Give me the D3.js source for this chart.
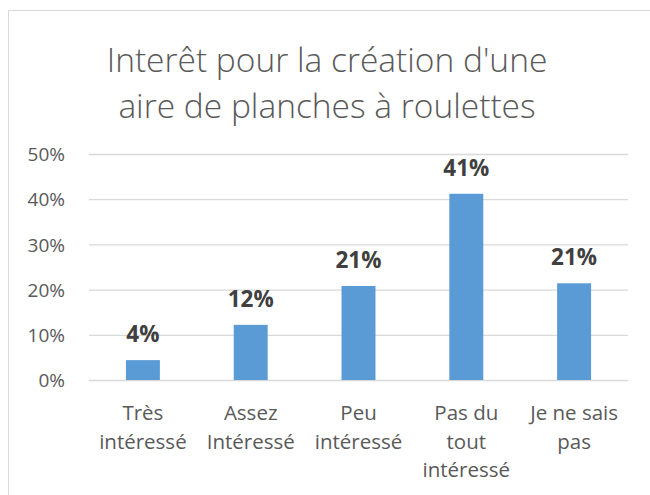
<!DOCTYPE html>
<html>
<head>
<meta charset="utf-8">
<script src="https://cdn.jsdelivr.net/npm/d3@7"></script>
<style>
  html, body { margin: 0; padding: 0; background: #fff; }
  svg { display: block; }
  text { font-family: "Open Sans", sans-serif; }
</style>
</head>
<body>
<svg id="chart" width="650" height="495"></svg>
<script>
const titleLines = ["Interêt pour la création d'une", "aire de planches à roulettes"];
const categories = [
  ["Très", "intéressé"],
  ["Assez", "Intéressé"],
  ["Peu", "intéressé"],
  ["Pas du", "tout", "intéressé"],
  ["Je ne sais", "pas"]
];
const values = [0.044, 0.122, 0.208, 0.412, 0.214];
const valueLabels = ["4%", "12%", "21%", "41%", "21%"];
const yTicks = [0, 0.1, 0.2, 0.3, 0.4, 0.5];

const svg = d3.select("#chart");
const W = 650, H = 495;
const plot = { left: 89, right: 628, top: 154, bottom: 380 };

svg.append("rect")
  .attr("x", 8.5).attr("y", 10.5)
  .attr("width", W + 10).attr("height", H + 10)
  .attr("fill", "#fff").attr("stroke", "#d9d9d9").attr("stroke-width", 1);

svg.append("g").selectAll("text").data(titleLines).join("text")
  .attr("x", 327).attr("y", (d, i) => 72 + i * 46)
  .attr("text-anchor", "middle")
  .attr("font-size", 33.5).attr("font-weight", 300)
  .attr("fill", "#595959")
  .text(d => d);

const x = d3.scaleBand()
  .domain(categories.map((c, i) => i))
  .range([plot.left, plot.right])
  .paddingInner(0.685).paddingOuter(0.3425);

const y = d3.scaleLinear().domain([0, 0.5]).range([plot.bottom, plot.top]);

// gridlines + y labels
const yAxis = d3.axisLeft(y).tickValues(yTicks).tickFormat(d3.format(".0%"))
  .tickSize(-(plot.right - plot.left)).tickPadding(24);
const gy = svg.append("g").attr("transform", `translate(${plot.left},0)`).call(yAxis);
gy.select(".domain").remove();
gy.selectAll(".tick line").attr("stroke", "#d9d9d9").attr("stroke-width", 1.3);
gy.selectAll(".tick text").attr("font-size", 19).attr("fill", "#595959")
  .attr("font-family", "'Open Sans', sans-serif").attr("dy", "0.35em");

// bars
svg.append("g").selectAll("rect").data(values).join("rect")
  .attr("x", (d, i) => x(i))
  .attr("width", x.bandwidth())
  .attr("y", d => y(d))
  .attr("height", d => y(0) - y(d))
  .attr("fill", "#5b9bd5");

// value labels
svg.append("g").selectAll("text").data(values).join("text")
  .attr("x", (d, i) => x(i) + x.bandwidth() / 2)
  .attr("y", d => y(d) - 18)
  .attr("text-anchor", "middle")
  .attr("font-size", 22.5).attr("font-weight", 700)
  .attr("fill", "#404040")
  .text((d, i) => valueLabels[i]);

// category labels
const xAxis = d3.axisBottom(x).tickSize(0).tickFormat("");
const gx = svg.append("g").attr("transform", `translate(0,${plot.bottom})`).call(xAxis);
gx.select(".domain").remove();
gx.selectAll(".tick").each(function(d) {
  const t = d3.select(this).append("text")
    .attr("text-anchor", "middle")
    .attr("font-size", 20.5).attr("fill", "#595959")
    .attr("font-family", "'Open Sans', sans-serif");
  categories[d].forEach((line, j) => {
    t.append("tspan").attr("x", 0).attr("y", 40 + j * 28.7).text(line);
  });
});
</script>
</body>
</html>
